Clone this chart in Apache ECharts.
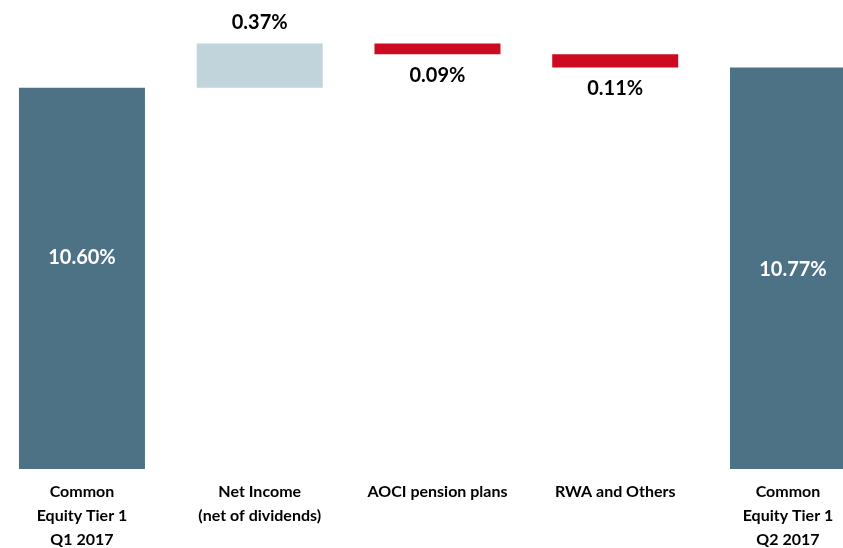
<!DOCTYPE html>
<html>
<head>
<meta charset="utf-8">
<script src="https://cdn.jsdelivr.net/npm/echarts@6/dist/echarts.min.js"></script>
<style>html,body{margin:0;padding:0;background:#fff}#c{width:843px;height:548px}</style>
</head>
<body>
<div id="c"></div>
<script>
const categories = ['Common\nEquity Tier 1\nQ1 2017', 'Net Income\n(net of dividends)', 'AOCI pension plans', 'RWA and Others', 'Common\nEquity Tier 1\nQ2 2017'];
const startRatio = 10.60;
const changes = [0.37, -0.09, -0.11];
const endRatio = 10.77;

const bases = [0], heights = [startRatio], kinds = ['total'];
let running = startRatio;
changes.forEach(c => {
  if (c >= 0) { bases.push(running); heights.push(c); kinds.push('up'); }
  else { bases.push(running + c); heights.push(-c); kinds.push('down'); }
  running += c;
});
bases.push(0); heights.push(endRatio); kinds.push('total');

const colors = { total: '#4E7285', up: '#C2D4DB', down: '#CE0A20' };
const FONT = 'Lato';

const visData = heights.map((h, i) => {
  const k = kinds[i];
  let label;
  if (k === 'total') {
    label = { position: 'inside', color: '#fff', offset: [0, i === 0 ? -21 : 1] };
  } else if (k === 'up') {
    label = { position: 'top', distance: 11, color: '#000' };
  } else {
    label = { position: 'bottom', distance: 11, color: '#000' };
  }
  return { value: h, itemStyle: { color: colors[k] }, label: label };
});

const catData = categories.map((c, i) => i === categories.length - 1
  ? { value: c, textStyle: { padding: [0, 10, 0, 0] } } : c);

const chart = echarts.init(document.getElementById('c'));
chart.setOption({
  animation: false,
  grid: { left: -6.9, width: 888.75, top: 40, height: 429, containLabel: false, outerBoundsMode: 'none' },
  xAxis: {
    type: 'category', data: catData,
    axisLine: { show: false }, axisTick: { show: false },
    axisLabel: { interval: 0, margin: 11, color: '#000', fontFamily: FONT, fontWeight: 'bold', fontSize: 16, lineHeight: 24 }
  },
  yAxis: { type: 'value', min: 7.4, max: 11, show: false, splitLine: { show: false } },
  series: [
    { type: 'bar', stack: 'w', data: bases, itemStyle: { color: 'transparent' }, barWidth: 126, silent: true },
    { type: 'bar', stack: 'w', data: visData, barWidth: 126,
      label: { show: true, fontFamily: FONT, fontWeight: 'bold', fontSize: 20,
        formatter: p => p.value.toFixed(2) + '%' } }
  ]
});
</script>
</body>
</html>
